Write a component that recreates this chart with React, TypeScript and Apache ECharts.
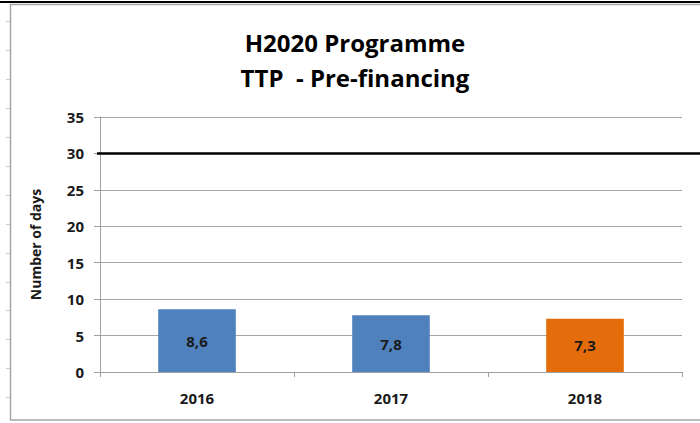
import React, { useEffect, useRef } from "react";
import * as echarts from "echarts";

const categories = ["2016", "2017", "2018"];
const values = [8.6, 7.8, 7.3];
const barColors = ["#4F81BD", "#4F81BD", "#E46C0A"];
const targetDays = 30;
const titleLines = ["H2020 Programme", "TTP  - Pre-financing"];
const yAxisTitle = "Number of days";

const FONT = "'Open Sans', 'Noto Sans', sans-serif";

export default function App() {
  const ref = useRef<HTMLDivElement>(null);
  useEffect(() => {
    document.body.style.margin = "0";
    const chart = echarts.init(ref.current!, null, { renderer: "svg" });
    const gridLeft = 100;
    const gridRight = 18;
    const option: any = {
      animation: false,
      backgroundColor: "#ffffff",
      textStyle: { fontFamily: FONT },
      grid: { left: gridLeft, right: gridRight, top: 117, bottom: 51, containLabel: false },
      xAxis: {
        type: "category",
        data: categories,
        axisLine: { show: true, lineStyle: { color: "#A0A0A0", width: 1 } },
        axisTick: { show: true, length: 5, alignWithLabel: false, lineStyle: { color: "#A0A0A0" } },
        axisLabel: { margin: 18, fontSize: 15, fontWeight: "bold", color: "#1a1a1a", fontFamily: FONT },
      },
      yAxis: {
        type: "value",
        min: 0,
        max: 35,
        interval: 5,
        name: yAxisTitle,
        nameLocation: "middle",
        nameRotate: 90,
        nameGap: 58,
        nameTextStyle: { fontSize: 14, fontWeight: "bold", color: "#1a1a1a", fontFamily: FONT },
        axisLine: { show: true, lineStyle: { color: "#A0A0A0", width: 1 } },
        axisTick: { show: true, length: 6, lineStyle: { color: "#A0A0A0" } },
        axisLabel: { margin: 16, fontSize: 15, fontWeight: "bold", color: "#1a1a1a", fontFamily: FONT },
        splitLine: { show: true, lineStyle: { color: "#A6A6A6", width: 1 } },
      },
      series: [
        {
          type: "bar",
          data: values.map((v, i) => ({
            value: v,
            itemStyle: { color: barColors[i] },
          })),
          barWidth: "40%",
          label: {
            show: true,
            position: "inside",
            fontSize: 15,
            fontWeight: "bold",
            color: "#1a1a1a",
            fontFamily: FONT,
            formatter: (p: any) => String(p.value).replace(".", ","),
          },
        },
      ],
    };
    chart.setOption(option);
    const yTarget = chart.convertToPixel({ yAxisIndex: 0 }, targetDays) as number;
    const leftTicks = [21, 50, 79, 108, 137, 166, 195, 224, 253, 282, 310, 339, 368, 397];
    chart.setOption({
      graphic: [
        { type: "line", shape: { x1: 0, y1: 2, x2: 700, y2: 2 }, style: { stroke: "#000", lineWidth: 2 }, silent: true },
        { type: "rect", shape: { x: 10.5, y: 4.5, width: 720, height: 415.5 }, style: { fill: "none", stroke: "#A6A6A6", lineWidth: 1.5 }, silent: true },
        ...leftTicks.map((y) => ({ type: "line", shape: { x1: 6, y1: y + 0.5, x2: 10, y2: y + 0.5 }, style: { stroke: "#C8C8C8", lineWidth: 1 }, silent: true })),
        {
          type: "line",
          shape: { x1: gridLeft - 3, y1: yTarget, x2: 700, y2: yTarget },
          style: { stroke: "#000000", lineWidth: 2.5 },
          z: 10,
          silent: true,
        },
        ...titleLines.map((t, i) => ({
          type: "text",
          x: 355,
          y: 42 + i * 35,
          style: {
            text: t,
            fontSize: 24,
            fontWeight: "bold",
            fontFamily: FONT,
            fill: "#000",
            textAlign: "center",
            textVerticalAlign: "middle",
          },
          silent: true,
        })),
      ],
    });
    return () => chart.dispose();
  }, []);
  return <div ref={ref} style={{ position: "fixed", left: 0, top: 0, width: 700, height: 423 }} />;
}
